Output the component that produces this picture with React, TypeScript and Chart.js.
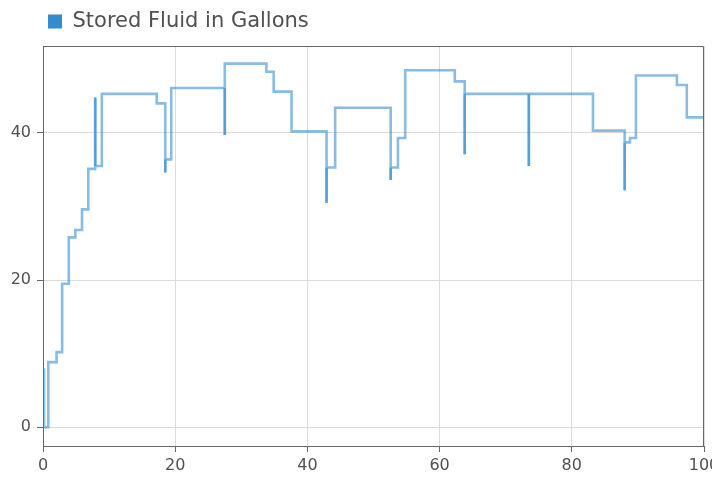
import React, { useEffect, useRef } from 'react';
import { Chart, registerables } from 'chart.js';

Chart.register(...registerables);

// ---- data ----
const seriesLabel = 'Stored Fluid in Gallons';
const timeValues = [
  0.15, 0.15, 0.8, 2.05, 2.9, 3.9, 4.9, 5.9, 6.85, 7.9,
  7.9, 8.9, 17.2, 18.5, 18.5, 19.4, 27.5, 27.5, 33.8, 34.9,
  37.6, 42.9, 42.9, 44.2, 52.6, 52.6, 53.7, 54.8, 62.3, 63.8,
  63.8, 73.5, 73.5, 83.2, 88.0, 88.0, 88.8, 89.7, 95.9, 97.4,
  100,
];
const storedGallons = [
  8.0, 0, 8.85, 10.2, 19.5, 25.8, 26.8, 29.6, 35.1, 44.8,
  35.5, 45.3, 44.0, 34.6, 36.4, 46.1, 39.7, 49.4, 48.3, 45.6,
  40.2, 30.5, 35.3, 43.4, 33.6, 35.3, 39.3, 48.5, 47.0, 37.1,
  45.3, 35.5, 45.3, 40.3, 32.2, 38.7, 39.3, 47.8, 46.5, 42.1,
  42.1,
];
const xTickValues = [0, 20, 40, 60, 80, 100];
const yTickValues = [0, 20, 40];
const xRange = [0, 100];
const yRange = [-2.55, 51.8];

const FONT = '"DejaVu Sans", "Liberation Sans", Arial, sans-serif';
const TEXT = '#505050';
const AXIS = '#666';
const GRID = '#dadada';
const SOLID = 'rgb(50,140,205)';
const LINE = 'rgba(50,140,205,0.58)';

const framePlugin = {
  id: 'frame',
  afterDatasetsDraw(chart: any) {
    const { ctx, chartArea } = chart;
    const { left, top, right } = chartArea;
    ctx.save();
    ctx.strokeStyle = AXIS;
    ctx.lineWidth = 1;
    ctx.beginPath();
    ctx.moveTo(left, top + 0.5);
    ctx.lineTo(right - 0.5, top + 0.5);
    ctx.lineTo(right - 0.5, chartArea.bottom);
    ctx.stroke();
    ctx.restore();
  },
};

export default function App() {
  const ref = useRef<HTMLCanvasElement | null>(null);

  useEffect(() => {
    if (!ref.current) return;

    const mainPoints = timeValues.map((x, i) => ({ x, y: storedGallons[i] }));

    // segments where the stepped line runs back over itself (drawn twice -> darker)
    const retrace: any[] = [];
    for (let i = 1; i < timeValues.length - 1; i++) {
      if (timeValues[i] === timeValues[i + 1]) {
        const prev = storedGallons[i - 1];
        const cur = storedGallons[i];
        const next = storedGallons[i + 1];
        if ((cur - prev) * (next - cur) < 0) {
          const end = cur > prev ? Math.max(prev, next) : Math.min(prev, next);
          retrace.push({ x: timeValues[i], y: cur }, { x: timeValues[i], y: end }, { x: timeValues[i], y: null });
        }
      }
    }

    const chart = new Chart(ref.current, {
      type: 'line',
      data: {
        datasets: [
          {
            label: seriesLabel,
            data: mainPoints,
            stepped: 'before',
            borderColor: LINE,
            backgroundColor: SOLID,
            borderWidth: 2.6,
            pointRadius: 0,
            fill: false,
          },
          {
            label: '_retrace',
            data: retrace,
            borderColor: LINE,
            backgroundColor: SOLID,
            borderWidth: 2.6,
            pointRadius: 0,
            fill: false,
            spanGaps: false,
          },
        ],
      },
      options: {
        responsive: false,
        maintainAspectRatio: false,
        animation: false,
        devicePixelRatio: 1,
        layout: { padding: { top: 6, left: 0, right: 8, bottom: 0 } },
        plugins: {
          tooltip: { enabled: false },
          title: { display: false },
          subtitle: {
            display: true,
            text: '',
            position: 'top',
            weight: 500,
            padding: 0,
            font: { size: 4, lineHeight: 1 },
          } as any,
          legend: {
            position: 'top',
            align: 'start',
            fullSize: false,
            labels: {
              boxWidth: 14,
              boxHeight: 14,
              padding: 5,
              color: TEXT,
              font: { family: FONT, size: 21 },
              generateLabels: () => [
                {
                  text: seriesLabel,
                  fillStyle: SOLID,
                  strokeStyle: 'rgba(0,0,0,0)',
                  lineWidth: 0,
                  fontColor: TEXT,
                  hidden: false,
                  datasetIndex: 0,
                } as any,
              ],
            },
          },
        },
        scales: {
          x: {
            type: 'linear',
            min: xRange[0],
            max: xRange[1],
            afterBuildTicks: (s: any) => {
              s.ticks = xTickValues.map((v) => ({ value: v }));
            },
            afterFit: (s: any) => {
              s.height = 34;
              s.paddingLeft = 0;
              s.paddingRight = 0;
            },
            grid: { color: GRID, tickColor: AXIS, tickLength: 6, lineWidth: 1 },
            border: { color: AXIS, width: 1 },
            ticks: {
              color: TEXT,
              font: { family: FONT, size: 16 },
              padding: 4,
              maxRotation: 0,
              autoSkip: false,
              callback: (v: any) => String(v),
            },
          },
          y: {
            type: 'linear',
            min: yRange[0],
            max: yRange[1],
            afterBuildTicks: (s: any) => {
              s.ticks = yTickValues.map((v) => ({ value: v }));
            },
            afterFit: (s: any) => {
              s.width = 43;
              s.paddingTop = 0;
              s.paddingBottom = 0;
            },
            grid: { color: GRID, tickColor: AXIS, tickLength: 6, lineWidth: 1 },
            border: { color: AXIS, width: 1 },
            ticks: {
              color: TEXT,
              font: { family: FONT, size: 16 },
              padding: 6,
              callback: (v: any) => String(v),
            },
          },
        },
      },
      plugins: [framePlugin],
    } as any);

    return () => chart.destroy();
  }, []);

  return (
    <div style={{ position: 'absolute', left: 0, top: 0, width: 712, height: 480, overflow: 'hidden', background: '#fff' }}>
      <canvas ref={ref} width={712} height={480} style={{ display: 'block' }} />
    </div>
  );
}
